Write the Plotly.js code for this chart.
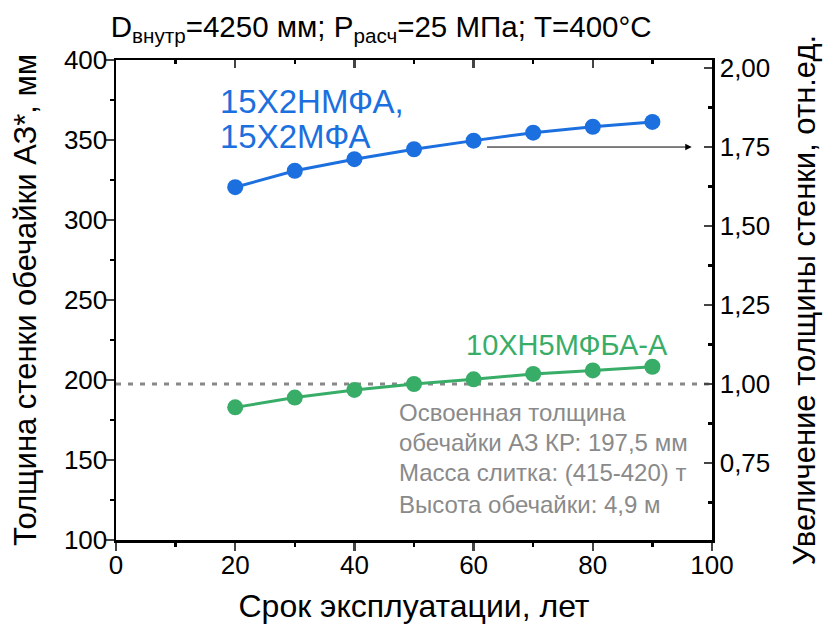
<!DOCTYPE html>
<html>
<head>
<meta charset="utf-8">
<script src="https://cdn.plot.ly/plotly-3.0.1.min.js"></script>
<style>html,body{margin:0;padding:0;background:#fff}#chart{width:825px;height:624px}</style>
</head>
<body>
<div id="chart"></div>
<script>
const years = [20, 30, 40, 50, 60, 70, 80, 90];
const steel15 = [320.5, 330.8, 338.0, 344.2, 349.6, 354.6, 358.3, 361.3];
const steel10 = [182.9, 189.0, 193.8, 197.5, 200.4, 203.8, 206.0, 208.3];
const masteredThickness = 197.5;
const refLineX = [0, 100];
const rightTicks = [0.75, 1.00, 1.25, 1.50, 1.75, 2.00];
const rightTickText = ["0,75", "1,00", "1,25", "1,50", "1,75", "2,00"];
const blueLabel = ["15Х2НМФА,", "15Х2МФА"];
const blueLabelY = [373.8, 351.9];
const noteLines = ["Освоенная толщина", "обечайки АЗ КР: 197,5 мм", "Масса слитка: (415-420) т", "Высота обечайки: 4,9 м"];
const noteY = [179.5, 161, 142, 122.5];

const blue = "#1c6fde";
const green = "#38ad68";
const gray = "#8a8a8a";
const font = "Liberation Sans";

const traces = [
  {x: refLineX, y: [masteredThickness, masteredThickness], mode: "lines",
   line: {color: "#888888", width: 3, dash: "5px,7px"}, showlegend: false, hoverinfo: "skip"},
  {x: years, y: steel15, mode: "lines+markers", line: {color: blue, width: 3},
   marker: {color: blue, size: 16}, showlegend: false},
  {x: years, y: steel10, mode: "lines+markers", line: {color: green, width: 3},
   marker: {color: green, size: 16}, showlegend: false},
  {x: [null], y: [null], xaxis: "x2", yaxis: "y2", showlegend: false, hoverinfo: "skip"}
];

const annotations = [
  {x: 93, y: 222, xref: "x", yref: "y", text: "10ХН5МФБА-А", showarrow: false,
   xanchor: "right", yanchor: "middle", font: {family: font, size: 29, color: green}},
  {x: 96.6, y: 345.6, xref: "x", yref: "y", ax: 62, ay: 345.6, axref: "x", ayref: "y",
   text: "", showarrow: true, arrowhead: 2, arrowsize: 1.3, arrowwidth: 1, arrowcolor: "#000"}
];
blueLabel.forEach((t, i) => annotations.push({
  x: 17.1, y: blueLabelY[i], xref: "x", yref: "y", text: t, showarrow: false,
  xanchor: "left", yanchor: "middle", font: {family: font, size: 33, color: blue}
}));
noteLines.forEach((t, i) => annotations.push({
  x: 47.2, y: noteY[i], xref: "x", yref: "y", text: t, showarrow: false,
  xanchor: "left", yanchor: "middle", font: {family: font, size: 24, color: gray}
}));

const layout = {
  width: 825, height: 624,
  margin: {l: 116, r: 113, t: 60, b: 84},
  paper_bgcolor: "#fff", plot_bgcolor: "#fff",
  separators: ", ",
  font: {family: font, size: 26, color: "#000"},
  title: {text: "D<sub>внутр</sub>=4250 мм; P<sub>расч</sub>=25 МПа; T=400°C",
          font: {family: font, size: 29.5, color: "#000"},
          xref: "paper", x: 0.445, xanchor: "center", yref: "container", y: 0.958, yanchor: "middle"},
  xaxis: {range: [0, 100], dtick: 20, tick0: 0, ticks: "outside", ticklen: 8, tickwidth: 2.5,
          showline: true, linewidth: 2.5, linecolor: "#000", showgrid: false, zeroline: false,
          minor: {dtick: 10, ticks: "outside", ticklen: 4, tickwidth: 2.5, tickcolor: "#000"},
          tickfont: {size: 26}, ticklabelstandoff: -8,
          title: {text: "Срок эксплуатации, лет", font: {size: 32}, standoff: 16}},
  xaxis2: {overlaying: "x", side: "top", range: [0, 100], dtick: 20, ticks: "inside", ticklen: 8, tickwidth: 2.5,
           showline: true, linewidth: 2.5, linecolor: "#000", showgrid: false, zeroline: false, showticklabels: false,
           minor: {dtick: 10, ticks: "inside", ticklen: 4, tickwidth: 2.5, tickcolor: "#000"}},
  yaxis: {range: [100, 400], dtick: 50, tick0: 100, ticks: "outside", ticklen: 8, tickwidth: 2.5,
          showline: true, linewidth: 2.5, linecolor: "#000", showgrid: false, zeroline: false,
          minor: {dtick: 25, ticks: "outside", ticklen: 4, tickwidth: 2.5, tickcolor: "#000"},
          tickfont: {size: 26}, ticklabelstandoff: -7,
          title: {text: "Толщина стенки обечайки АЗ*, мм", font: {size: 31}, standoff: 18}},
  yaxis2: {overlaying: "y", side: "right", range: [100 / masteredThickness, 400 / masteredThickness],
           tickvals: rightTicks, ticktext: rightTickText, ticks: "inside", ticklen: 8, tickwidth: 2.5,
           showline: true, linewidth: 2.5, linecolor: "#000", showgrid: false, zeroline: false,
           minor: {dtick: 0.125, tick0: 0.75, ticks: "inside", ticklen: 4, tickwidth: 2.5, tickcolor: "#000"},
           tickfont: {size: 26},
           title: {text: "Увеличение толщины стенки, отн.ед.", font: {size: 31}, standoff: 24}},
  annotations: annotations
};

Plotly.newPlot("chart", traces, layout, {displayModeBar: false, staticPlot: true});
</script>
</body>
</html>
